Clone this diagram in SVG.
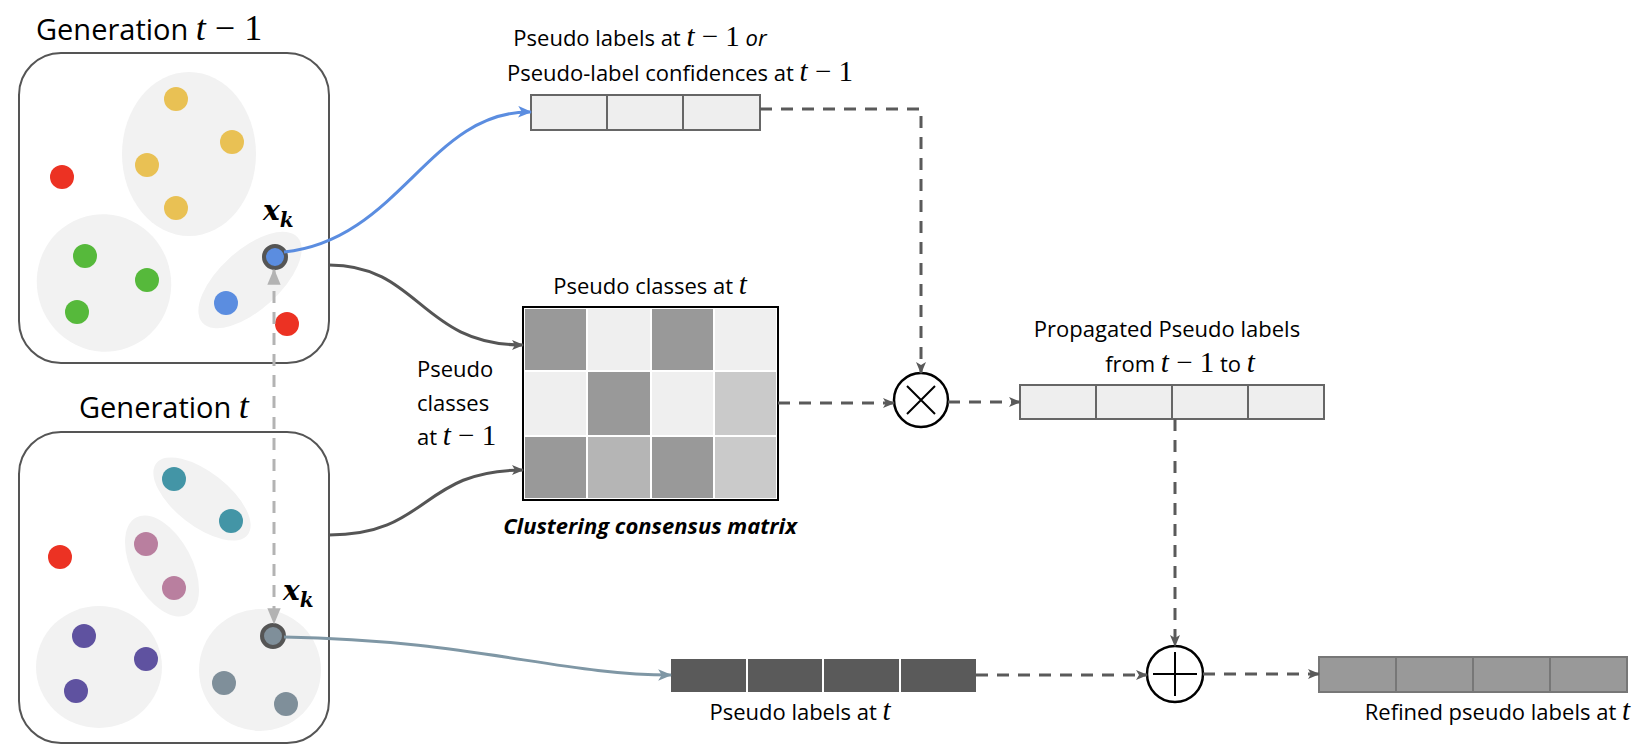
<svg xmlns="http://www.w3.org/2000/svg" width="1638" height="752" viewBox="0 0 1638 752">
<style>
.t{font-family:"Open Sans","Liberation Sans",sans-serif;font-size:22px;fill:#000}
.h{font-size:29px}
.m{font-family:"Liberation Serif","DejaVu Serif",serif;font-style:italic;font-size:29px}
.n{font-family:"Liberation Serif","DejaVu Serif",serif;font-style:normal;font-size:29px}
.big{font-size:36px}
.xk{font-family:"DejaVu Serif",serif;font-style:italic;font-weight:bold;font-size:28px}
.panel{fill:#fff;stroke:#555;stroke-width:2}
.blob{fill:#f2f2f2}
.cell{fill:#eeeeee;stroke:#666;stroke-width:2}
.dash{fill:none;stroke:#5a5a5a;stroke-width:3;stroke-dasharray:12 9}
.op{fill:#fff;stroke:#000;stroke-width:2.5}
</style>
<defs>
<marker id="ad" viewBox="0 0 12 10" refX="11" refY="5" markerWidth="12" markerHeight="10" markerUnits="userSpaceOnUse" orient="auto"><path d="M0,0 L12,5 L0,10 L3,5z" fill="#5a5a5a"/></marker>
<marker id="ab" viewBox="0 0 12 10" refX="11" refY="5" markerWidth="14" markerHeight="12" markerUnits="userSpaceOnUse" orient="auto"><path d="M0,0 L12,5 L0,10 L3,5z" fill="#5b8de0"/></marker>
<marker id="as" viewBox="0 0 12 10" refX="11" refY="5" markerWidth="14" markerHeight="12" markerUnits="userSpaceOnUse" orient="auto"><path d="M0,0 L12,5 L0,10 L3,5z" fill="#7f97a5"/></marker>
<marker id="ag" viewBox="0 0 12 10" refX="11" refY="5" markerWidth="16" markerHeight="14" markerUnits="userSpaceOnUse" orient="auto-start-reverse"><path d="M0,0 L12,5 L0,10z" fill="#b3b3b3"/></marker>
</defs>

<g id="gen-prev">
<text x="36" y="40" class="t h">Generation <tspan class="m big">t</tspan><tspan class="n big"> − 1</tspan></text>
<rect class="panel" x="19" y="53" width="310" height="310" rx="42"/>
<ellipse class="blob" cx="189" cy="154" rx="67" ry="82"/>
<ellipse class="blob" cx="104" cy="283" rx="67" ry="69" transform="rotate(-20 104 283)"/>
<ellipse class="blob" cx="250" cy="280" rx="64" ry="30" transform="rotate(-42 250 280)"/>
<g fill="#e9c154"><circle cx="176" cy="99" r="12"/><circle cx="232" cy="142" r="12"/><circle cx="147" cy="165" r="12"/><circle cx="176" cy="208" r="12"/></g>
<g fill="#56b93b"><circle cx="85" cy="256" r="12"/><circle cx="147" cy="280" r="12"/><circle cx="77" cy="312" r="12"/></g>
<circle cx="62" cy="177" r="12" fill="#ec3223"/>
<circle cx="287" cy="324" r="12" fill="#ec3223"/>
<circle cx="226" cy="303" r="12" fill="#5b8de0"/>
<circle cx="275" cy="257" r="11" fill="#5b8de0" stroke="#555" stroke-width="4"/>
<text x="263" y="220" class="xk">x<tspan font-size="20" dy="7">k</tspan></text>
</g>

<g id="gen-cur">
<text x="79" y="418" class="t h">Generation <tspan class="m big">t</tspan></text>
<rect class="panel" x="19" y="432" width="310" height="311" rx="42"/>
<ellipse class="blob" cx="202" cy="499" rx="58" ry="27" transform="rotate(38 202 499)"/>
<ellipse class="blob" cx="162" cy="566" rx="55" ry="30" transform="rotate(62 162 566)"/>
<ellipse class="blob" cx="99" cy="667" rx="63" ry="61"/>
<ellipse class="blob" cx="260" cy="670" rx="61" ry="61"/>
<g fill="#4395a6"><circle cx="174" cy="479" r="12"/><circle cx="231" cy="521" r="12"/></g>
<g fill="#b97f9f"><circle cx="146" cy="544" r="12"/><circle cx="174" cy="588" r="12"/></g>
<g fill="#5f52a0"><circle cx="84" cy="636" r="12"/><circle cx="146" cy="659" r="12"/><circle cx="76" cy="691" r="12"/></g>
<g fill="#7f8f9a"><circle cx="224" cy="683" r="12"/><circle cx="286" cy="704" r="12"/></g>
<circle cx="60" cy="557" r="12" fill="#ec3223"/>
<circle cx="273" cy="636" r="11" fill="#7f8f9a" stroke="#555" stroke-width="4"/>
<text x="283" y="600" class="xk">x<tspan font-size="20" dy="7">k</tspan></text>
</g>

<g id="labels-prev">
<text x="640" y="46" text-anchor="middle" class="t">Pseudo labels at <tspan class="m">t</tspan><tspan class="n"> − 1</tspan> <tspan font-style="italic">or</tspan></text>
<text x="680" y="81" text-anchor="middle" class="t">Pseudo-label confidences at <tspan class="m">t</tspan><tspan class="n"> − 1</tspan></text>
<rect class="cell" x="531" y="95" width="229" height="35"/>
<line x1="607" y1="95" x2="607" y2="130" stroke="#666" stroke-width="2"/>
<line x1="683" y1="95" x2="683" y2="130" stroke="#666" stroke-width="2"/>
</g>

<g id="matrix">
<text x="650" y="294" text-anchor="middle" class="t">Pseudo classes at <tspan class="m">t</tspan></text>
<text x="417" y="377" class="t">Pseudo</text>
<text x="417" y="411" class="t">classes</text>
<text x="417" y="445" class="t">at <tspan class="m">t</tspan><tspan class="n"> − 1</tspan></text>
<rect x="523" y="307" width="255" height="193" fill="#fff" stroke="#000" stroke-width="2"/>
<g stroke="#fff" stroke-width="2">
<rect x="524" y="308" width="63" height="63" fill="#999"/><rect x="587" y="308" width="64" height="63" fill="#efefef"/><rect x="651" y="308" width="63" height="63" fill="#999"/><rect x="714" y="308" width="63" height="63" fill="#efefef"/>
<rect x="524" y="371" width="63" height="65" fill="#efefef"/><rect x="587" y="371" width="64" height="65" fill="#999"/><rect x="651" y="371" width="63" height="65" fill="#efefef"/><rect x="714" y="371" width="63" height="65" fill="#cacaca"/>
<rect x="524" y="436" width="63" height="63" fill="#999"/><rect x="587" y="436" width="64" height="63" fill="#b5b5b5"/><rect x="651" y="436" width="63" height="63" fill="#999"/><rect x="714" y="436" width="63" height="63" fill="#cacaca"/>
</g>
<rect x="523" y="307" width="255" height="193" fill="none" stroke="#000" stroke-width="2"/>
<text x="650" y="534" text-anchor="middle" class="t" font-weight="bold" font-style="italic">Clustering consensus matrix</text>
</g>

<g id="multiply">
<circle class="op" cx="921" cy="400" r="27"/>
<path d="M907,386 L935,414 M935,386 L907,414" stroke="#000" stroke-width="2"/>
</g>

<g id="propagated">
<text x="1167" y="337" text-anchor="middle" class="t">Propagated Pseudo labels</text>
<text x="1180" y="372" text-anchor="middle" class="t">from <tspan class="m">t</tspan><tspan class="n"> − 1</tspan> to <tspan class="m">t</tspan></text>
<rect class="cell" x="1020" y="385" width="304" height="34"/>
<path d="M1096,385 V419 M1172,385 V419 M1248,385 V419" stroke="#666" stroke-width="2"/>
</g>

<g id="labels-cur">
<rect x="671" y="659" width="305" height="33" fill="#5a5a5a"/>
<path d="M747,659 V692 M823,659 V692 M900,659 V692" stroke="#fff" stroke-width="2"/>
<text x="800" y="720" text-anchor="middle" class="t">Pseudo labels at <tspan class="m">t</tspan></text>
</g>

<g id="plus">
<circle class="op" cx="1175" cy="674" r="28"/>
<path d="M1175,652 V696 M1153,674 H1197" stroke="#000" stroke-width="2"/>
</g>

<g id="refined">
<rect x="1319" y="657" width="308" height="35" fill="#999" stroke="#777" stroke-width="2"/>
<path d="M1396,657 V692 M1473,657 V692 M1550,657 V692" stroke="#777" stroke-width="2"/>
<text x="1630" y="720" text-anchor="end" class="t">Refined pseudo labels at <tspan class="m">t</tspan></text>
</g>

<g id="connectors">
<path d="M284,252 C400,240 430,110 531,112" fill="none" stroke="#5b8de0" stroke-width="3" marker-end="url(#ab)"/>
<path d="M329,265 C420,265 420,345 523,345" fill="none" stroke="#555" stroke-width="3" marker-end="url(#ad)"/>
<path d="M329,535 C430,535 420,470 523,470" fill="none" stroke="#555" stroke-width="3" marker-end="url(#ad)"/>
<path d="M284,637 C470,640 560,675 671,675" fill="none" stroke="#7f97a5" stroke-width="3" marker-end="url(#as)"/>
<line x1="274" y1="270" x2="274" y2="623" stroke="#b3b3b3" stroke-width="3" stroke-dasharray="12 9" marker-start="url(#ag)" marker-end="url(#ag)"/>
<path class="dash" d="M760,109 H921 V373" marker-end="url(#ad)"/>
<path class="dash" d="M778,403 H894" marker-end="url(#ad)"/>
<path class="dash" d="M948,402 H1020" marker-end="url(#ad)"/>
<path class="dash" d="M1175,419 V646" marker-end="url(#ad)"/>
<path class="dash" d="M976,675 H1147" marker-end="url(#ad)"/>
<path class="dash" d="M1203,674 H1319" marker-end="url(#ad)"/>
</g>
</svg>
